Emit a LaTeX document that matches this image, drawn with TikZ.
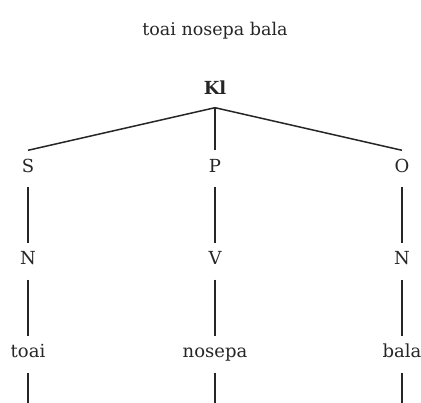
\documentclass[tikz,border=0pt]{standalone}
\usepackage{fontspec}
\setmainfont{DejaVu Serif}
\begin{document}
\begin{tikzpicture}[x=1pt,y=-1pt,
  lab/.style={inner sep=0pt,anchor=base,text height=22pt,text depth=14.5pt,font=\fontsize{18}{20}\selectfont,text=black!85},
  edge/.style={draw=black!85,line width=1.5pt}]
\useasboundingbox (0,0) rectangle (421,403);
\node[inner sep=0pt,anchor=base,font=\fontsize{17.5}{20}\selectfont,text=black!85] (title) at (215,36) {toai nosepa bala};
\node[lab,text depth=12.5pt,font=\fontsize{18}{20}\selectfont\bfseries] (kl) at (215,95) {Kl};
\node[lab] (s) at (28,172.5) {S};
\node[lab] (p) at (215,172.5) {P};
\node[lab] (o) at (402,172.5) {O};
\node[lab] (n1) at (28,265) {N};
\node[lab] (v) at (215,265) {V};
\node[lab] (n2) at (402,265) {N};
\node[lab] (w1) at (28,358) {toai};
\node[lab] (w2) at (215,358) {nosepa};
\node[lab] (w3) at (402,358) {bala};
\coordinate (e1) at (28,403);
\coordinate (e2) at (215,403);
\coordinate (e3) at (402,403);
\draw[edge] (kl.south) -- (s.north);
\draw[edge] (kl.south) -- (p.north);
\draw[edge] (kl.south) -- (o.north);
\draw[edge] (s.south) -- (n1.north);
\draw[edge] (p.south) -- (v.north);
\draw[edge] (o.south) -- (n2.north);
\draw[edge] (n1.south) -- (w1.north);
\draw[edge] (v.south) -- (w2.north);
\draw[edge] (n2.south) -- (w3.north);
\draw[edge] (w1.south) -- (e1);
\draw[edge] (w2.south) -- (e2);
\draw[edge] (w3.south) -- (e3);
\end{tikzpicture}
\end{document}
